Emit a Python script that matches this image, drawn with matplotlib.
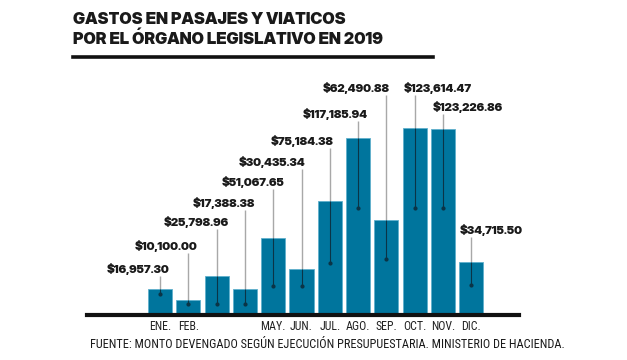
import matplotlib
matplotlib.use("Agg")
import matplotlib.pyplot as plt
from matplotlib.lines import Line2D
from matplotlib import font_manager as fm

# ---------------- data ----------------
months = ["ENE.", "FEB.", "MAR.", "ABR.", "MAY.", "JUN.", "JUL.", "AGO.", "SEP.", "OCT.", "NOV.", "DIC."]
tick_labels = ["ENE.", "FEB.", "", "", "MAY.", "JUN.", "JUL.", "AGO.", "SEP.", "OCT.", "NOV.", "DIC."]
values = [16957.30, 10100.00, 25798.96, 17388.38, 51067.65, 30435.34,
          75184.38, 117185.94, 62490.88, 123614.47, 123226.86, 34715.50]
value_labels = ["$16,957.30", "$10,100.00", "$25,798.96", "$17,388.38", "$51,067.65", "$30,435.34",
                "$75,184.38", "$117,185.94", "$62,490.88", "$123,614.47", "$123,226.86", "$34,715.50"]
title = "GASTOS EN PASAJES Y VIATICOS\nPOR EL ÓRGANO LEGISLATIVO EN 2019"
source = "FUENTE: MONTO DEVENGADO SEGÚN EJECUCIÓN PRESUPUESTARIA. MINISTERIO DE HACIENDA."

# ---------------- layout (pixels) ----------------
label_dx_px = [-22, -22, -20, -21, -20, -29, -28, -23, -30, 23, 25, 20]
label_y_px = [269, 246, 222, 203, 182, 162, 141, 114, 88, 88, 107, 230]
leader_end_px = [21, 11, 11, 11, 29, 29, 52, 107, 56, 107, 107, 30]

W, H = 627, 360
BASE = 315
TOP = 50
LEFT, RIGHT = 87, 519
X0, STEP = 160, 28.3

def avail(name):
    try:
        fm.findfont(fm.FontProperties(family=name), fallback_to_default=False)
        return True
    except Exception:
        return False

heavy = [f for f in ["Inter Display", "Inter", "DejaVu Sans"] if avail(f)]
narrow = [f for f in ["Liberation Sans Narrow", "Roboto Condensed", "Liberation Sans", "DejaVu Sans"] if avail(f)]

fig = plt.figure(figsize=(W / 100, H / 100), dpi=100)
fig.patch.set_facecolor("white")
ax = fig.add_axes([LEFT / W, (H - BASE) / H, (RIGHT - LEFT) / W, (BASE - TOP) / H])

vmax = max(values)
units_per_px = vmax / 187.0
ax.set_xlim((LEFT - X0) / STEP, (RIGHT - X0) / STEP)
ax.set_ylim(0, (BASE - TOP) * units_per_px)

x = list(range(len(values)))
bar_color = "#00759d"
ax.bar(x, values, width=0.85, color=bar_color, edgecolor="#5fb0cc", linewidth=0.6, zorder=2)

for i, v in enumerate(values):
    ly = (BASE - label_y_px[i]) * units_per_px
    ltop = ly - 7 * units_per_px
    lend = leader_end_px[i] * units_per_px
    ax.plot([i, i], [ltop, v], color="#a8a8a8", lw=1.0, zorder=1, solid_capstyle="butt")
    ax.plot([i, i], [v, lend], color="#0b3446", lw=0.8, zorder=3, solid_capstyle="butt")
    ax.plot([i], [lend], marker="o", ms=2.0, color="#0b3446", zorder=3)
    ax.text(i + label_dx_px[i] / STEP, ly, value_labels[i], ha="center", va="center",
            fontsize=8.3, fontweight=900, family=heavy, color="#1a1a1a", zorder=4)

for s in ["top", "right", "left"]:
    ax.spines[s].set_visible(False)
ax.spines["bottom"].set_linewidth(3.0)
ax.spines["bottom"].set_color("#111111")
ax.set_yticks([])
ax.set_xticks(x)
ax.set_xticklabels(tick_labels, family=narrow, fontsize=8.6, color="#222222")
ax.tick_params(axis="x", length=0, pad=3.5)
ax.set_facecolor("none")

fig.text(73 / W, 1 - 12.5 / H, title, ha="left", va="top", fontsize=11.7, fontweight=900,
         family=heavy, color="#1a1a1a", linespacing=1.2)
fig.add_artist(Line2D([73 / W, 433 / W], [1 - 56.5 / H, 1 - 56.5 / H], color="#111111", lw=2.6))
fig.text(90 / W, 1 - 345 / H, source, ha="left", va="center", fontsize=8.8,
         family=narrow, color="#1a1a1a")

fig.savefig("out.png", dpi=100)
